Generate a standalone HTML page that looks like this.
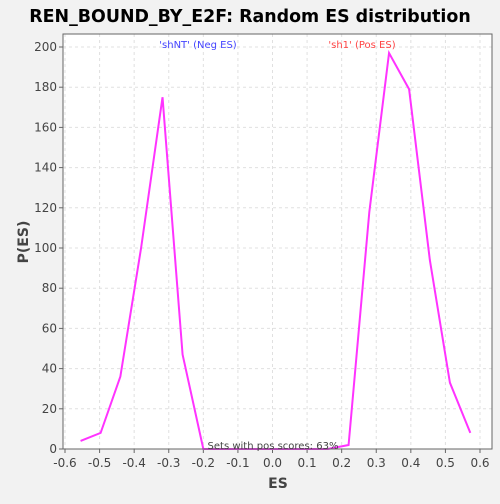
<!DOCTYPE html>
<html><head><meta charset="utf-8"><style>
body{margin:0;background:#f2f2f2;font-family:"DejaVu Sans","Liberation Sans",sans-serif}
</style></head><body>
<svg width="500" height="500" xmlns="http://www.w3.org/2000/svg">
<rect width="500" height="500" fill="#f2f2f2"/>
<text x="250" y="22" text-anchor="middle" font-size="17.4" font-weight="bold" fill="#000">REN_BOUND_BY_E2F: Random ES distribution</text>
<rect x="63" y="34" width="429" height="415" fill="#fff"/>
<g id="grid"></g>
<g id="ticks"></g>
<polyline id="line" fill="none" stroke="#ff33ff" stroke-width="2"/>
<rect x="63" y="34" width="429" height="415" fill="none" stroke="#666"/>
<text x="198" y="48" text-anchor="middle" font-size="10" fill="#4444ff">'shNT' (Neg ES)</text>
<text x="362" y="48" text-anchor="middle" font-size="10" fill="#ff4444">'sh1' (Pos ES)</text>
<text x="273" y="449" text-anchor="middle" font-size="10" fill="#444">Sets with pos scores: 63%</text>
<text x="278" y="488" text-anchor="middle" font-size="14" font-weight="bold" fill="#444">ES</text>
<text x="28" y="242" text-anchor="middle" font-size="14" font-weight="bold" fill="#444" transform="rotate(-90 28 242)">P(ES)</text>
</svg>
<script>
const xs=[-0.555,-0.497,-0.44,-0.38,-0.318,-0.26,-0.2,-0.14,-0.08,-0.02,0.04,0.1,0.16,0.22,0.28,0.337,0.395,0.455,0.513,0.572];
const ps=[4,8,36,100,175,47,0,0,0,0,0,0,0,2,118,197,179,94,33,8];
const xTicks=[-0.6,-0.5,-0.4,-0.3,-0.2,-0.1,0.0,0.1,0.2,0.3,0.4,0.5,0.6];
const yTicks=[0,20,40,60,80,100,120,140,160,180,200];
const X=v=>65+(v+0.6)/1.2*415, Y=v=>449-v*2.01;
const NS="http://www.w3.org/2000/svg";
const g=document.getElementById('grid'),t=document.getElementById('ticks');
function mk(p,tag,a){const e=document.createElementNS(NS,tag);for(const k in a)e.setAttribute(k,a[k]);p.appendChild(e);return e;}
xTicks.forEach(v=>{
const l=mk(g,'line',{x1:X(v),x2:X(v),y1:34,y2:449,stroke:'#e0e0e0','stroke-dasharray':'3,3'});


const k=mk(t,'line',{x1:X(v),x2:X(v),y1:449,y2:453,stroke:'#666'});


const s=mk(t,'text',{x:X(v),y:467,'text-anchor':'middle','font-size':12,fill:'#444'});
s.textContent=v.toFixed(1);


});
yTicks.forEach(v=>{
const l=mk(g,'line',{x1:63,x2:492,y1:Y(v),y2:Y(v),stroke:'#e0e0e0','stroke-dasharray':'3,3'});


const k=mk(t,'line',{x1:59,x2:63,y1:Y(v),y2:Y(v),stroke:'#666'});


const s=mk(t,'text',{x:57,y:Y(v)+4,'text-anchor':'end','font-size':12,fill:'#444'});
s.textContent=v;


});
document.getElementById('line').setAttribute('points',xs.map((x,i)=>X(x)+','+Y(ps[i])).join(' '));
</script>
</body></html>
